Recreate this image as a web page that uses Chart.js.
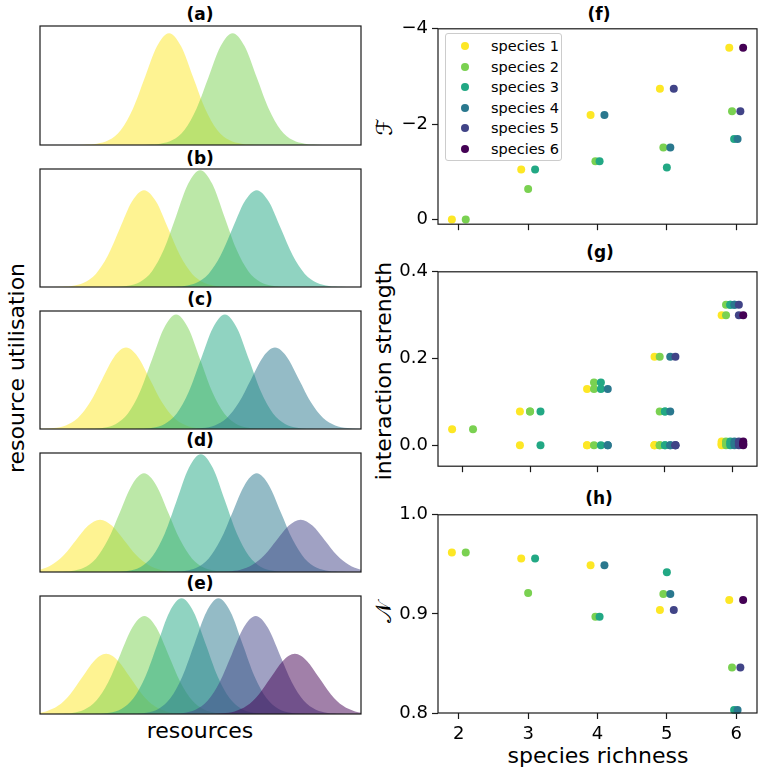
<!DOCTYPE html>
<html><head><meta charset="utf-8">
<script src="https://cdn.jsdelivr.net/npm/chart.js@4.4.0/dist/chart.umd.min.js"></script>
<style>
body{margin:0;width:761px;height:768px;background:#fff;position:relative;overflow:hidden;font-family:'DejaVu Sans',sans-serif;color:#000}
canvas{position:absolute}
.t{position:absolute;white-space:nowrap;line-height:1;transform:translate(-50%,-50%)}
.r{transform:translate(-50%,-50%) rotate(-90deg)}
.b{font-weight:bold;font-size:17px}
.l{font-size:22px}
#legend{position:absolute;left:445px;top:33px;width:117px;height:128px;border:1px solid #cccccc;border-radius:3px;background:rgba(255,255,255,0.8);box-sizing:border-box}
.lr{position:absolute;left:0;height:20px;width:100%}
.lm{position:absolute;left:15px;top:5px;width:8px;height:8px;border-radius:50%}
.lt{position:absolute;left:45px;top:1px;font-size:14.5px;line-height:16px;white-space:nowrap}
</style></head><body>
<div class="t b" style="left:200px;top:14px">(a)</div>
<div class="t b" style="left:200px;top:158px">(b)</div>
<div class="t b" style="left:200px;top:299px">(c)</div>
<div class="t b" style="left:200px;top:440px">(d)</div>
<div class="t b" style="left:200px;top:583px">(e)</div>
<div class="t b" style="left:599px;top:14px">(f)</div>
<div class="t b" style="left:600px;top:252px">(g)</div>
<div class="t b" style="left:599px;top:498px">(h)</div>
<div class="t r l" style="left:17px;top:368px">resource utilisation</div>
<div class="t l" style="left:200px;top:731px">resources</div>
<div class="t r l" style="left:384px;top:371px">interaction strength</div>
<div class="t l" style="left:598px;top:756px">species richness</div>
<div class="t r l" style="left:385px;top:127px">ℱ</div>
<div class="t r l" style="left:384px;top:612px">𝒩</div>
<div id="legend"></div>
<script>
// ---------- shared ----------
const speciesNames = ['species 1','species 2','species 3','species 4','species 5','species 6'];
const speciesColours = ['#fde725','#7ad151','#22a884','#2a788e','#414487','#440154'];
const speciesFills = ['rgba(253,231,37,0.5)','rgba(122,209,81,0.5)','rgba(34,168,132,0.5)','rgba(42,120,142,0.5)','rgba(65,68,135,0.5)','rgba(68,1,84,0.5)'];
const richness = [2,3,4,5,6];
const richnessLabels = ['2','3','4','5','6'];

// ---------- left: resource utilisation curves (resource axis 0..100) ----------
const sampleOffsets = [-30,-26.25,-22.5,-18.75,-15,-11.25,-7.5,-3.75,0,3.75,7.5,11.25,15,18.75,22.5,26.25,30];
const centresA = [40.2, 60.0];
const utilA = [
 [0,.002,.010,.041,.127,.305,.570,.830,.940,.830,.570,.305,.127,.041,.010,.002,0],
 [0,.002,.010,.041,.127,.305,.570,.830,.940,.830,.570,.305,.127,.041,.010,.002,0]
];
const centresB = [32.4, 49.9, 67.5];
const utilB = [
 [0,.002,.009,.036,.111,.266,.497,.724,.820,.724,.497,.266,.111,.036,.009,.002,0],
 [0,.002,.011,.043,.134,.321,.600,.874,.990,.874,.600,.321,.134,.043,.011,.002,0],
 [0,.002,.009,.036,.111,.266,.497,.724,.820,.724,.497,.266,.111,.036,.009,.002,0]
];
const centresC = [26.8, 42.4, 57.6, 73.2];
const utilC = [
 [0,.002,.008,.030,.093,.224,.418,.609,.690,.609,.418,.224,.093,.030,.008,.002,0],
 [0,.002,.011,.043,.131,.315,.588,.856,.970,.856,.588,.315,.131,.043,.011,.002,0],
 [0,.002,.011,.043,.131,.315,.588,.856,.970,.856,.588,.315,.131,.043,.011,.002,0],
 [0,.002,.008,.030,.093,.224,.418,.609,.690,.609,.418,.224,.093,.030,.008,.002,0]
];
const centresD = [18.7, 32.4, 50.1, 67.5, 81.2];
const utilD = [
 [0,.001,.005,.019,.060,.143,.267,.388,.440,.388,.267,.143,.060,.019,.005,.001,0],
 [0,.002,.009,.036,.112,.270,.503,.732,.830,.732,.503,.270,.112,.036,.009,.002,0],
 [0,.002,.011,.043,.134,.321,.600,.874,.990,.874,.600,.321,.134,.043,.011,.002,0],
 [0,.002,.009,.036,.112,.270,.503,.732,.830,.732,.503,.270,.112,.036,.009,.002,0],
 [0,.001,.005,.019,.060,.143,.267,.388,.440,.388,.267,.143,.060,.019,.005,.001,0]
];
const centresE = [20.6, 32.5, 44.1, 55.6, 67.2, 79.4];
const utilE = [
 [0,.001,.006,.022,.069,.166,.309,.450,.510,.450,.309,.166,.069,.022,.006,.001,0],
 [0,.002,.009,.036,.112,.270,.503,.732,.830,.732,.503,.270,.112,.036,.009,.002,0],
 [0,.002,.011,.043,.133,.318,.594,.865,.980,.865,.594,.318,.133,.043,.011,.002,0],
 [0,.002,.011,.043,.133,.318,.594,.865,.980,.865,.594,.318,.133,.043,.011,.002,0],
 [0,.002,.009,.036,.112,.270,.503,.732,.830,.732,.503,.270,.112,.036,.009,.002,0],
 [0,.001,.006,.022,.069,.166,.309,.450,.510,.450,.309,.166,.069,.022,.006,.001,0]
];

// ---------- (f) fitness differences F, one value per richness the species is present in ----------
const fX1 = [1.90, 2.90, 3.90, 4.90, 5.90];
const fX2 = [2.10, 3.00, 3.97, 4.95, 5.94];
const fX3 = [3.10, 4.03, 5.00, 5.97];
const fX4 = [4.10, 5.05, 6.02];
const fX5 = [5.10, 6.06];
const fX6 = [6.10];
const fSpecies1 = [0.00, -1.05, -2.19, -2.74, -3.60];
const fSpecies2 = [0.00, -0.64, -1.22, -1.51, -2.27];
const fSpecies3 = [-1.05, -1.22, -1.09, -1.69];
const fSpecies4 = [-2.19, -1.51, -1.69];
const fSpecies5 = [-2.74, -2.27];
const fSpecies6 = [-3.60];
const fTicks = [-4, -2, 0];
const fTickLabels = ['\u22124', '\u22122', '0'];

// ---------- (g) interaction strengths, list of values per richness ----------
const gX1 = [1.845, 2.85, 3.845, 4.845, 5.84];
const gX2 = [2.155, 3.00, 3.948, 4.922, 5.905];
const gX3 = [3.155, 4.05, 5.00, 5.968];
const gX4 = [4.152, 5.078, 6.03];
const gX5 = [5.155, 6.095];
const gX6 = [6.16];
const gSpecies1 = [[0.037],[0.078,0.000],[0.130,0.000,0.000],[0.204,0.000,0.000,0.000],[0.300,0.009,0.005,0.002,0.000]];
const gSpecies2 = [[0.037],[0.078,0.078],[0.130,0.145,0.000],[0.204,0.078,0.000,0.000],[0.300,0.324,0.009,0.005,0.000]];
const gSpecies3 = [[0.078,0.000],[0.145,0.130,0.000],[0.078,0.078,0.000,0.000],[0.324,0.324,0.009,0.005,0.000]];
const gSpecies4 = [[0.130,0.000,0.000],[0.078,0.204,0.000,0.000],[0.324,0.324,0.009,0.005,0.000]];
const gSpecies5 = [[0.204,0.000,0.000,0.000],[0.324,0.300,0.009,0.005,0.000]];
const gSpecies6 = [[0.300,0.009,0.005,0.002,0.000]];
const gTicks = [0.0, 0.2, 0.4];
const gTickLabels = ['0.0', '0.2', '0.4'];

// ---------- (h) niche overlap N ----------
const hSpecies1 = [0.962, 0.956, 0.949, 0.904, 0.914];
const hSpecies2 = [0.962, 0.921, 0.897, 0.920, 0.846];
const hSpecies3 = [0.956, 0.897, 0.942, 0.803];
const hSpecies4 = [0.949, 0.920, 0.803];
const hSpecies5 = [0.904, 0.846];
const hSpecies6 = [0.914];
const hTicks = [0.8, 0.9, 1.0];
const hTickLabels = ['0.8', '0.9', '1.0'];

// ---------- drawing ----------
const FONT = 'DejaVu Sans';
const framePlugin = {
  id: 'frame',
  afterDraw(chart) {
    const {ctx, chartArea: a} = chart;
    ctx.save();
    ctx.strokeStyle = '#1a1a1a';
    ctx.lineWidth = 1.2;
    ctx.strokeRect(a.left, a.top, a.right - a.left, a.bottom - a.top);
    ctx.restore();
  }
};
function makeCanvas(left, top, w, h) {
  const c = document.createElement('canvas');
  c.width = w; c.height = h;
  c.style.left = left + 'px'; c.style.top = top + 'px';
  c.style.width = w + 'px'; c.style.height = h + 'px';
  document.body.appendChild(c);
  return c;
}
const baseOpts = {
  responsive: false, animation: false, events: [], devicePixelRatio: 1,
  plugins: { legend: { display: false }, tooltip: { enabled: false } }
};

function utilChart(top, h, centres, util) {
  const c = makeCanvas(39, top - 1, 323, h + 2);
  new Chart(c, {
    type: 'line',
    data: { datasets: util.map((vals, i) => ({
      data: vals.map((v, j) => ({ x: centres[i] + sampleOffsets[j], y: v })),
      fill: 'origin', backgroundColor: speciesFills[i], borderColor: 'rgba(0,0,0,0)', borderWidth: 0,
      pointRadius: 0, cubicInterpolationMode: 'monotone', order: util.length - i
    })) },
    options: Object.assign({}, baseOpts, {
      layout: { padding: 1 },
      scales: { x: { type: 'linear', display: false, min: 0, max: 100 }, y: { display: false, min: 0, max: 1 } }
    }),
    plugins: [framePlugin]
  });
}
utilChart(26, 119, centresA, utilA);
utilChart(169, 118, centresB, utilB);
utilChart(311, 118, centresC, utilC);
utilChart(453, 119, centresD, utilD);
utilChart(596, 118, centresE, utilE);

function scatterSets(xs, vals, multi) {
  return speciesNames.map((name, i) => {
    const pts = [];
    xs[i].forEach((x, k) => {
      if (multi) vals[i][k].forEach(v => pts.push({ x: x, y: v }));
      else pts.push({ x: x, y: vals[i][k] });
    });
    return { label: name, data: pts, pointBackgroundColor: speciesColours[i], backgroundColor: speciesColours[i],
      pointBorderColor: speciesColours[i], pointBorderWidth: 0, pointRadius: 4, order: 6 - i, clip: false };
  });
}
function scatterChart(top, h, xMin, xMax, y, datasets, showX) {
  const xH = showX ? 34 : 10;
  const c = makeCanvas(395, top - 12, 366, 12 + h + xH);
  new Chart(c, {
    type: 'scatter',
    data: { datasets },
    options: Object.assign({}, baseOpts, {
      layout: { padding: { top: 12, right: 2, left: 0, bottom: 0 } },
      scales: {
        x: { type: 'linear', min: xMin, max: xMax,
          afterBuildTicks: s => { s.ticks = richness.map(v => ({ value: v })); },
          afterFit: s => { s.height = xH; },
          border: { display: false },
          grid: { drawOnChartArea: false, drawTicks: true, tickLength: 6, tickColor: '#1a1a1a', tickWidth: 1.2 },
          ticks: { display: showX, color: '#000', padding: 5, font: { family: FONT, size: 18 },
            callback: (v, i) => richnessLabels[i] } },
        y: { type: 'linear', min: y.min, max: y.max, reverse: !!y.reverse,
          afterBuildTicks: s => { s.ticks = y.ticks.map(v => ({ value: v })); },
          afterFit: s => { s.width = 43; },
          border: { display: false },
          grid: { drawOnChartArea: false, drawTicks: true, tickLength: 6, tickColor: '#1a1a1a', tickWidth: 1.2 },
          ticks: { color: '#000', padding: 4, font: { family: FONT, size: 18 },
            callback: (v, i) => y.labels[i] } }
      }
    }),
    plugins: [framePlugin]
  });
}
scatterChart(26, 203, 1.70, 6.30, { min: -4, max: 0.1, reverse: true, ticks: fTicks, labels: fTickLabels },
  scatterSets([fX1, fX2, fX3, fX4, fX5, fX6], [fSpecies1, fSpecies2, fSpecies3, fSpecies4, fSpecies5, fSpecies6], false), false);
scatterChart(269, 202, 1.636, 6.364, { min: -0.048, max: 0.4, ticks: gTicks, labels: gTickLabels },
  scatterSets([gX1, gX2, gX3, gX4, gX5, gX6], [gSpecies1, gSpecies2, gSpecies3, gSpecies4, gSpecies5, gSpecies6], true), false);
scatterChart(512, 201, 1.70, 6.30, { min: 0.8, max: 1.0, ticks: hTicks, labels: hTickLabels },
  scatterSets([fX1, fX2, fX3, fX4, fX5, fX6], [hSpecies1, hSpecies2, hSpecies3, hSpecies4, hSpecies5, hSpecies6], false), true);

// legend
const lg = document.getElementById('legend');
speciesNames.forEach((n, i) => {
  const row = document.createElement('div');
  row.className = 'lr';
  row.style.top = (3 + i * 20.6) + 'px';
  row.innerHTML = '<div class="lm" style="background:' + speciesColours[i] + '"></div><div class="lt">' + n + '</div>';
  lg.appendChild(row);
});
</script>
</body></html>
